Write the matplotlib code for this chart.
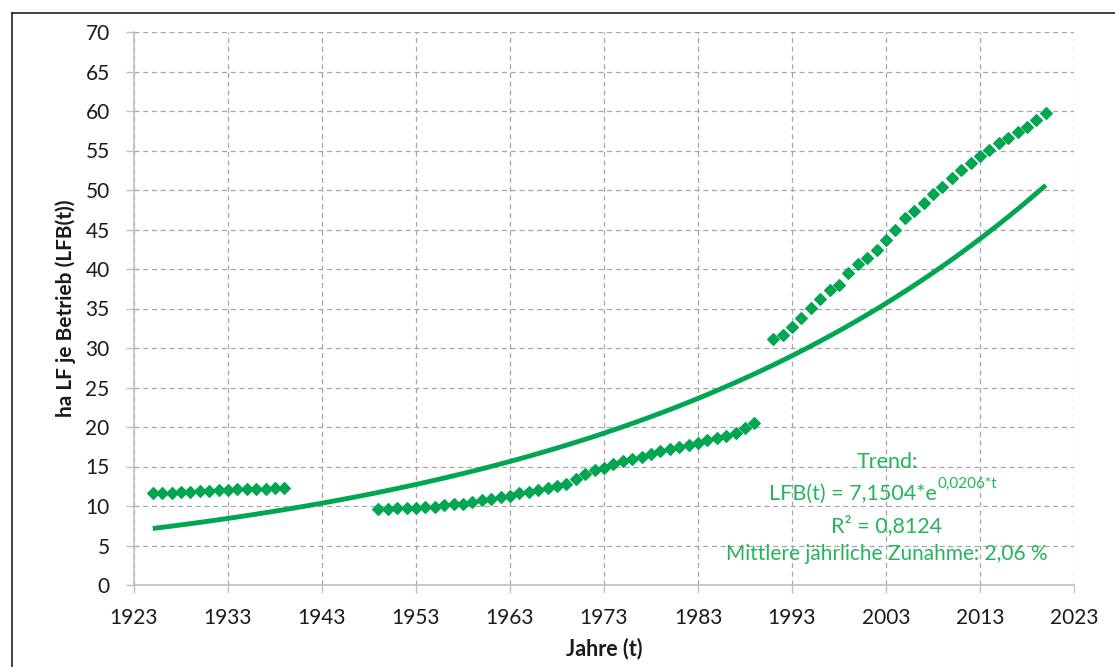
import numpy as np
import matplotlib
matplotlib.use("Agg")
import matplotlib.pyplot as plt
from matplotlib.lines import Line2D

plt.rcParams['font.family'] = ['Lato', 'DejaVu Sans']

# Daten
jahre_1 = list(range(1925, 1940))
lfb_1 = [11.6, 11.7, 11.7, 11.8, 11.8, 11.9, 11.9, 12.0, 12.0, 12.1,
         12.1, 12.2, 12.2, 12.3, 12.3]

jahre_2 = list(range(1949, 1990))
lfb_2 = [9.6, 9.6, 9.7, 9.7, 9.8, 9.9, 9.9, 10.1, 10.2, 10.3,
         10.5, 10.8, 10.9, 11.1, 11.3, 11.6, 11.8, 12.0, 12.3, 12.5,
         12.8, 13.4, 14.1, 14.5, 14.8, 15.3, 15.7, 15.9, 16.2, 16.6,
         16.9, 17.2, 17.5, 17.7, 18.0, 18.3, 18.6, 18.9, 19.3, 19.9,
         20.5]

jahre_3 = list(range(1991, 2021))
lfb_3 = [31.2, 31.7, 32.7, 33.8, 35.1, 36.2, 37.3, 38.0, 39.5, 40.6,
         41.4, 42.4, 43.7, 44.9, 46.4, 47.4, 48.4, 49.5, 50.4, 51.5,
         52.5, 53.4, 54.3, 55.1, 55.9, 56.6, 57.4, 58.0, 58.9, 59.7]

# Trend: LFB(t) = 7,1504*e^(0,0206*t), t = Jahre seit 1925
trend_a = 7.1504
trend_b = 0.0206
trend_start = 1925
trend_ende = 2020

xticks = list(range(1923, 2024, 10))
yticks = list(range(0, 71, 5))

gruen = '#00A651'
text_gruen = '#27B35C'
grau = '#A6A6A6'

fig = plt.figure(figsize=(11.15, 6.67), dpi=100)
ax = fig.add_axes([134/1115, 1-585/667, (1074-134)/1115, (585-32)/667])

# Rahmen links/oben
fig.add_artist(Line2D([12/1115, 12/1115], [0, 1-12.5/667], color='#222222', lw=1.2))
fig.add_artist(Line2D([12/1115, 1], [1-12.5/667, 1-12.5/667], color='#222222', lw=1.2))

tj = np.arange(trend_start, trend_ende + 1)
ax.plot(tj, trend_a*np.exp(trend_b*(tj - trend_start)), color=gruen, lw=3.5,
        solid_capstyle='butt', zorder=3)

for xs, ys in [(jahre_1, lfb_1), (jahre_2, lfb_2), (jahre_3, lfb_3)]:
    ax.plot(xs, ys, ls='none', marker='D', ms=6.6, color=gruen, mew=0.8,
            zorder=4)

ax.set_xlim(1923, 2023)
ax.set_ylim(0, 70)
ax.set_xticks(xticks)
ax.set_yticks(yticks)

ax.grid(True, color=grau, ls=(0, (4, 3)), lw=0.9)
ax.set_axisbelow(True)
for s in ['top', 'right']:
    ax.spines[s].set_visible(False)
for s in ['left', 'bottom']:
    ax.spines[s].set_color('#BFBFBF')
    ax.spines[s].set_linewidth(1.2)

ax.tick_params(axis='both', colors='#BFBFBF', labelcolor='#1A1A1A',
               labelsize=15, length=5.5, width=1)
ax.tick_params(axis='y', pad=12)
ax.tick_params(axis='x', pad=11)

ax.set_xlabel('Jahre (t)', fontsize=15.5, fontweight='bold', color='#1A1A1A',
              labelpad=7)
ax.set_ylabel('ha LF je Betrieb (LFB(t))', fontsize=15, fontweight='bold',
              color='#1A1A1A', labelpad=7)

# Trend-Beschriftung
ax.text(2003.1, 14.8, 'Trend:', color=text_gruen, fontsize=15.5,
        ha='center', va='baseline')
t_lfb = ax.text(1990.6, 10.75, 'LFB(t) = 7,1504*e', color=text_gruen,
                fontsize=15.5, ha='left', va='baseline')
ax.annotate('0,0206*t', xy=(1.0, 0.68), xycoords=t_lfb, color=text_gruen,
            fontsize=11, ha='left', va='bottom')
ax.text(2003.1, 6.7, 'R² = 0,8124', color=text_gruen, fontsize=15.5,
        ha='center', va='baseline')
ax.text(2003.1, 3.15, 'Mittlere jährliche Zunahme: 2,06 %', color=text_gruen,
        fontsize=15, ha='center', va='baseline')

fig.savefig('out.png', dpi=100)
